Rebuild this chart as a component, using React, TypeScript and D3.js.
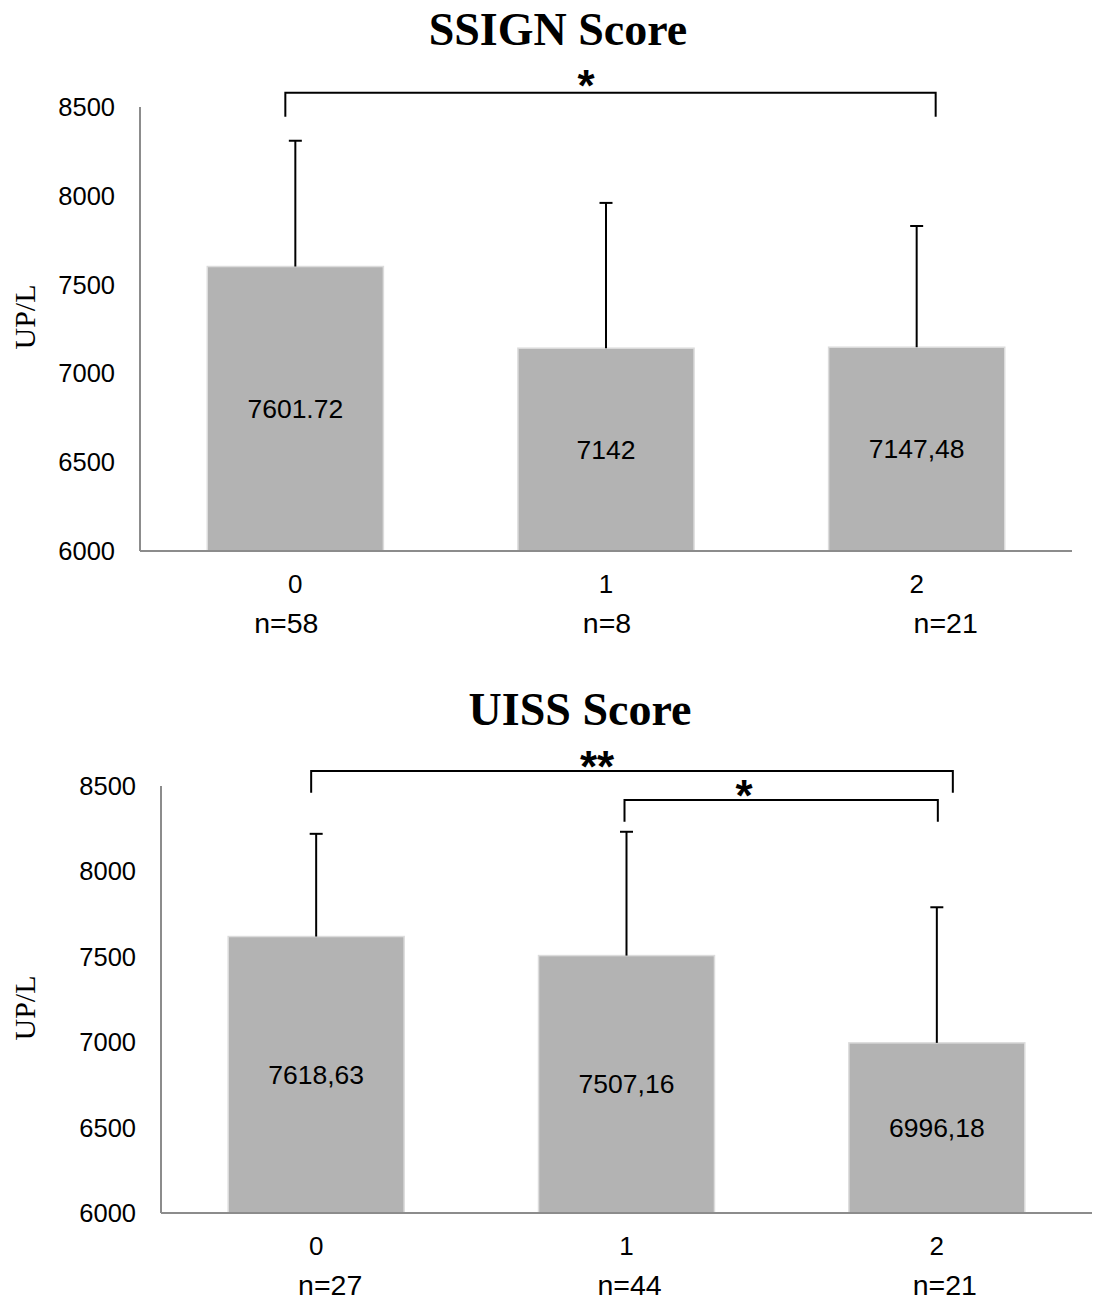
import * as d3 from 'd3';

// SSIGN panel
const ssignCats = ['0', '1', '2'];
const ssignMeans = [7601.72, 7142, 7147.48];
const ssignUpper = [8310, 7960, 7830];
const ssignLabels = ['7601.72', '7142', '7147,48'];
const ssignN = ['n=58', 'n=8', 'n=21'];

// UISS panel
const uissCats = ['0', '1', '2'];
const uissMeans = [7618.63, 7507.16, 6996.18];
const uissUpper = [8220, 8232, 7790];
const uissLabels = ['7618,63', '7507,16', '6996,18'];
const uissN = ['n=27', 'n=44', 'n=21'];

const yTicks = [6000, 6500, 7000, 7500, 8000, 8500];

// significance brackets: from / to category, height (UP/L), drop end (UP/L)
const ssignBrackets = [{ from: '0', to: '2', top: 8580, end: 8445, label: '*' }];
const uissBrackets = [
  { from: '0', to: '2', top: 8588, end: 8460, label: '**' },
  { from: '1', to: '2', top: 8418, end: 8290, label: '*' },
];

const BAR = '#b3b3b3';
const AXIS = '#8c8c8c';
const SANS = 'Liberation Sans, Arial, sans-serif';
const SERIF = 'Liberation Serif, Times New Roman, serif';

type Bracket = { from: string; to: string; top: number; end: number; label: string };

type PanelProps = {
  title: string;
  titleX: number;
  titleY: number;
  left: number;
  right: number;
  top: number;
  bottom: number;
  labelY: number;
  cats: string[];
  means: number[];
  upper: number[];
  labels: string[];
  nLabels: string[];
  nShift: number[];
  brackets: Bracket[];
  bracketShift: [number, number][];
  starX: number[];
  starY: number[];
};

const Panel = (p: PanelProps) => {
  const x = d3
    .scaleBand<string>()
    .domain(p.cats)
    .range([p.left, p.right])
    .paddingInner(0.433)
    .paddingOuter(0.2165);
  const y = d3.scaleLinear().domain([6000, 8500]).range([p.bottom, p.top]);
  const bw = x.bandwidth();
  const cx = (c: string) => (x(c) as number) + bw / 2;

  return (
    <g>
      <text
        x={p.titleX}
        y={p.titleY}
        textAnchor="middle"
        fontFamily={SERIF}
        fontWeight="bold"
        fontSize={46}
      >
        {p.title}
      </text>

      <text
        transform={`translate(35,${p.labelY}) rotate(-90)`}
        textAnchor="middle"
        fontFamily={SERIF}
        fontSize={30}
      >
        UP/L
      </text>

      {yTicks.map(t => (
        <text
          key={t}
          x={p.left - 25}
          y={y(t) + 9}
          textAnchor="end"
          fontFamily={SANS}
          fontSize={25.5}
        >
          {t}
        </text>
      ))}

      {p.cats.map((c, i) => (
        <g key={c}>
          <rect
            x={x(c)}
            y={y(p.means[i])}
            width={bw}
            height={p.bottom - y(p.means[i])}
            fill={BAR}
            stroke="#dcdcdc"
            strokeWidth={1.5}
          />
          <line
            x1={cx(c)}
            x2={cx(c)}
            y1={y(p.means[i])}
            y2={y(p.upper[i])}
            stroke="#000"
            strokeWidth={2}
          />
          <line
            x1={cx(c) - 6.5}
            x2={cx(c) + 6.5}
            y1={y(p.upper[i])}
            y2={y(p.upper[i])}
            stroke="#000"
            strokeWidth={2}
          />
          <text
            x={cx(c)}
            y={(y(p.means[i]) + p.bottom) / 2 + 9}
            textAnchor="middle"
            fontFamily={SANS}
            fontSize={26.5}
          >
            {p.labels[i]}
          </text>
          <text
            x={cx(c)}
            y={p.bottom + 42}
            textAnchor="middle"
            fontFamily={SANS}
            fontSize={26}
          >
            {c}
          </text>
          <text
            x={cx(c) + p.nShift[i]}
            y={p.bottom + 82}
            textAnchor="middle"
            fontFamily={SANS}
            fontSize={28.5}
          >
            {p.nLabels[i]}
          </text>
        </g>
      ))}

      <line x1={p.left} x2={p.left} y1={p.top} y2={p.bottom} stroke={AXIS} strokeWidth={2} />
      <line x1={p.left} x2={p.right} y1={p.bottom} y2={p.bottom} stroke={AXIS} strokeWidth={2} />

      {p.brackets.map((b, i) => {
        const x1 = cx(b.from) + p.bracketShift[i][0];
        const x2 = cx(b.to) + p.bracketShift[i][1];
        const yt = y(b.top);
        const ye = y(b.end);
        return (
          <g key={i}>
            <path
              d={`M${x1},${ye}V${yt}H${x2}V${ye}`}
              fill="none"
              stroke="#000"
              strokeWidth={2}
            />
            <text
              x={p.starX[i]}
              y={p.starY[i]}
              textAnchor="middle"
              fontFamily={SANS}
              fontWeight="bold"
              fontSize={44}
            >
              {b.label}
            </text>
          </g>
        );
      })}
    </g>
  );
};

export default function App() {
  return (
    <svg
      width={1095}
      height={1300}
      style={{ position: 'absolute', left: 0, top: 0, background: '#fff' }}
    >
      <Panel
        title="SSIGN Score"
        titleX={558}
        titleY={45}
        left={140}
        right={1072}
        top={107}
        bottom={551}
        labelY={317}
        cats={ssignCats}
        means={ssignMeans}
        upper={ssignUpper}
        labels={ssignLabels}
        nLabels={ssignN}
        nShift={[-9, 1, 29]}
        brackets={ssignBrackets}
        bracketShift={[[-10, 19]]}
        starX={[586]}
        starY={[101]}
      />
      <Panel
        title="UISS Score"
        titleX={580}
        titleY={725}
        left={161}
        right={1092}
        top={786}
        bottom={1213}
        labelY={1008}
        cats={uissCats}
        means={uissMeans}
        upper={uissUpper}
        labels={uissLabels}
        nLabels={uissN}
        nShift={[14, 3, 8]}
        brackets={uissBrackets}
        bracketShift={[[-5, 16], [-2, 1]]}
        starX={[597, 744]}
        starY={[782, 811]}
      />
    </svg>
  );
}
